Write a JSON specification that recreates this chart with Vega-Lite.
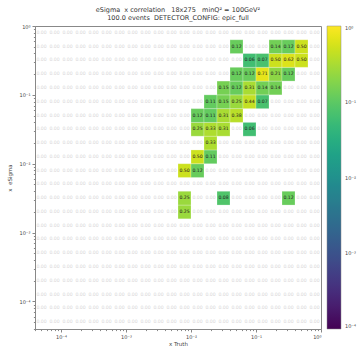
{
"$schema":"https://vega.github.io/schema/vega-lite/v6.json",
"width":286,"height":303,
"autosize":"none",
"padding":{"left":35,"top":26,"right":37,"bottom":18},
"background":"white",
"config":{"font":"DejaVu Sans","view":{"stroke":"#888","strokeWidth":1},
"axis":{"grid":false,"domainColor":"#888","tickColor":"#888","labelColor":"#444","titleColor":"#444","labelFontSize":5,"titleFontSize":5.5,"titleFontWeight":"normal","tickSize":3,"labelPadding":2}},
"title":{"text":["eSigma\u00a0\u00a0x correlation\u00a0\u00a0\u00a018x275\u00a0\u00a0\u00a0minQ² = 100GeV²","100.0 events\u00a0\u00a0DETECTOR_CONFIG: epic_full"],"fontSize":6.5,"fontWeight":"normal","color":"#333","offset":3,"lineHeight":8,"anchor":"middle"},
"datasets":{
"e":[
{"k":0,"lo":3.981e-5,"c":5.012e-5,"hi":6.31e-5},
{"k":1,"lo":6.31e-5,"c":7.943e-5,"hi":1e-4},
{"k":2,"lo":1e-4,"c":1.259e-4,"hi":1.585e-4},
{"k":3,"lo":1.585e-4,"c":1.995e-4,"hi":2.512e-4},
{"k":4,"lo":2.512e-4,"c":3.162e-4,"hi":3.981e-4},
{"k":5,"lo":3.981e-4,"c":5.012e-4,"hi":6.31e-4},
{"k":6,"lo":6.31e-4,"c":7.943e-4,"hi":1e-3},
{"k":7,"lo":1e-3,"c":1.259e-3,"hi":1.585e-3},
{"k":8,"lo":1.585e-3,"c":1.995e-3,"hi":2.512e-3},
{"k":9,"lo":2.512e-3,"c":3.162e-3,"hi":3.981e-3},
{"k":10,"lo":3.981e-3,"c":5.012e-3,"hi":6.31e-3},
{"k":11,"lo":6.31e-3,"c":7.943e-3,"hi":0.01},
{"k":12,"lo":0.01,"c":0.01259,"hi":0.01585},
{"k":13,"lo":0.01585,"c":0.01995,"hi":0.02512},
{"k":14,"lo":0.02512,"c":0.03162,"hi":0.03981},
{"k":15,"lo":0.03981,"c":0.05012,"hi":0.0631},
{"k":16,"lo":0.0631,"c":0.07943,"hi":0.1},
{"k":17,"lo":0.1,"c":0.1259,"hi":0.1585},
{"k":18,"lo":0.1585,"c":0.1995,"hi":0.2512},
{"k":19,"lo":0.2512,"c":0.3162,"hi":0.3981},
{"k":20,"lo":0.3981,"c":0.5012,"hi":0.631},
{"k":21,"lo":0.631,"c":0.7943,"hi":1}
],
"cells":[
{"i":0,"r":0,"v":0},{"i":1,"r":0,"v":0},{"i":2,"r":0,"v":0},{"i":3,"r":0,"v":0},{"i":4,"r":0,"v":0},{"i":5,"r":0,"v":0},{"i":6,"r":0,"v":0},{"i":7,"r":0,"v":0},{"i":8,"r":0,"v":0},{"i":9,"r":0,"v":0},{"i":10,"r":0,"v":0},{"i":11,"r":0,"v":0},{"i":12,"r":0,"v":0},{"i":13,"r":0,"v":0},{"i":14,"r":0,"v":0},{"i":15,"r":0,"v":0},{"i":16,"r":0,"v":0},{"i":17,"r":0,"v":0},{"i":18,"r":0,"v":0},{"i":19,"r":0,"v":0},{"i":20,"r":0,"v":0},{"i":21,"r":0,"v":0},
{"i":0,"r":1,"v":0},{"i":1,"r":1,"v":0},{"i":2,"r":1,"v":0},{"i":3,"r":1,"v":0},{"i":4,"r":1,"v":0},{"i":5,"r":1,"v":0},{"i":6,"r":1,"v":0},{"i":7,"r":1,"v":0},{"i":8,"r":1,"v":0},{"i":9,"r":1,"v":0},{"i":10,"r":1,"v":0},{"i":11,"r":1,"v":0},{"i":12,"r":1,"v":0},{"i":13,"r":1,"v":0},{"i":14,"r":1,"v":0},{"i":15,"r":1,"v":0},{"i":16,"r":1,"v":0},{"i":17,"r":1,"v":0},{"i":18,"r":1,"v":0},{"i":19,"r":1,"v":0},{"i":20,"r":1,"v":0},{"i":21,"r":1,"v":0},
{"i":0,"r":2,"v":0},{"i":1,"r":2,"v":0},{"i":2,"r":2,"v":0},{"i":3,"r":2,"v":0},{"i":4,"r":2,"v":0},{"i":5,"r":2,"v":0},{"i":6,"r":2,"v":0},{"i":7,"r":2,"v":0},{"i":8,"r":2,"v":0},{"i":9,"r":2,"v":0},{"i":10,"r":2,"v":0},{"i":11,"r":2,"v":0},{"i":12,"r":2,"v":0},{"i":13,"r":2,"v":0},{"i":14,"r":2,"v":0},{"i":15,"r":2,"v":0},{"i":16,"r":2,"v":0},{"i":17,"r":2,"v":0},{"i":18,"r":2,"v":0},{"i":19,"r":2,"v":0},{"i":20,"r":2,"v":0},{"i":21,"r":2,"v":0},
{"i":0,"r":3,"v":0},{"i":1,"r":3,"v":0},{"i":2,"r":3,"v":0},{"i":3,"r":3,"v":0},{"i":4,"r":3,"v":0},{"i":5,"r":3,"v":0},{"i":6,"r":3,"v":0},{"i":7,"r":3,"v":0},{"i":8,"r":3,"v":0},{"i":9,"r":3,"v":0},{"i":10,"r":3,"v":0},{"i":11,"r":3,"v":0},{"i":12,"r":3,"v":0},{"i":13,"r":3,"v":0},{"i":14,"r":3,"v":0},{"i":15,"r":3,"v":0},{"i":16,"r":3,"v":0},{"i":17,"r":3,"v":0},{"i":18,"r":3,"v":0},{"i":19,"r":3,"v":0},{"i":20,"r":3,"v":0},{"i":21,"r":3,"v":0},
{"i":0,"r":4,"v":0},{"i":1,"r":4,"v":0},{"i":2,"r":4,"v":0},{"i":3,"r":4,"v":0},{"i":4,"r":4,"v":0},{"i":5,"r":4,"v":0},{"i":6,"r":4,"v":0},{"i":7,"r":4,"v":0},{"i":8,"r":4,"v":0},{"i":9,"r":4,"v":0},{"i":10,"r":4,"v":0},{"i":11,"r":4,"v":0},{"i":12,"r":4,"v":0},{"i":13,"r":4,"v":0},{"i":14,"r":4,"v":0},{"i":15,"r":4,"v":0},{"i":16,"r":4,"v":0},{"i":17,"r":4,"v":0},{"i":18,"r":4,"v":0},{"i":19,"r":4,"v":0},{"i":20,"r":4,"v":0},{"i":21,"r":4,"v":0},
{"i":0,"r":5,"v":0},{"i":1,"r":5,"v":0},{"i":2,"r":5,"v":0},{"i":3,"r":5,"v":0},{"i":4,"r":5,"v":0},{"i":5,"r":5,"v":0},{"i":6,"r":5,"v":0},{"i":7,"r":5,"v":0},{"i":8,"r":5,"v":0},{"i":9,"r":5,"v":0},{"i":10,"r":5,"v":0},{"i":11,"r":5,"v":0},{"i":12,"r":5,"v":0},{"i":13,"r":5,"v":0},{"i":14,"r":5,"v":0},{"i":15,"r":5,"v":0},{"i":16,"r":5,"v":0},{"i":17,"r":5,"v":0},{"i":18,"r":5,"v":0},{"i":19,"r":5,"v":0},{"i":20,"r":5,"v":0},{"i":21,"r":5,"v":0},
{"i":0,"r":6,"v":0},{"i":1,"r":6,"v":0},{"i":2,"r":6,"v":0},{"i":3,"r":6,"v":0},{"i":4,"r":6,"v":0},{"i":5,"r":6,"v":0},{"i":6,"r":6,"v":0},{"i":7,"r":6,"v":0},{"i":8,"r":6,"v":0},{"i":9,"r":6,"v":0},{"i":10,"r":6,"v":0},{"i":11,"r":6,"v":0},{"i":12,"r":6,"v":0},{"i":13,"r":6,"v":0},{"i":14,"r":6,"v":0},{"i":15,"r":6,"v":0},{"i":16,"r":6,"v":0},{"i":17,"r":6,"v":0},{"i":18,"r":6,"v":0},{"i":19,"r":6,"v":0},{"i":20,"r":6,"v":0},{"i":21,"r":6,"v":0},
{"i":0,"r":7,"v":0},{"i":1,"r":7,"v":0},{"i":2,"r":7,"v":0},{"i":3,"r":7,"v":0},{"i":4,"r":7,"v":0},{"i":5,"r":7,"v":0},{"i":6,"r":7,"v":0},{"i":7,"r":7,"v":0},{"i":8,"r":7,"v":0},{"i":9,"r":7,"v":0},{"i":10,"r":7,"v":0},{"i":11,"r":7,"v":0},{"i":12,"r":7,"v":0},{"i":13,"r":7,"v":0},{"i":14,"r":7,"v":0},{"i":15,"r":7,"v":0},{"i":16,"r":7,"v":0},{"i":17,"r":7,"v":0},{"i":18,"r":7,"v":0},{"i":19,"r":7,"v":0},{"i":20,"r":7,"v":0},{"i":21,"r":7,"v":0},
{"i":0,"r":8,"v":0},{"i":1,"r":8,"v":0},{"i":2,"r":8,"v":0},{"i":3,"r":8,"v":0},{"i":4,"r":8,"v":0},{"i":5,"r":8,"v":0},{"i":6,"r":8,"v":0},{"i":7,"r":8,"v":0},{"i":8,"r":8,"v":0},{"i":9,"r":8,"v":0},{"i":10,"r":8,"v":0},{"i":11,"r":8,"v":0.25},{"i":12,"r":8,"v":0},{"i":13,"r":8,"v":0},{"i":14,"r":8,"v":0},{"i":15,"r":8,"v":0},{"i":16,"r":8,"v":0},{"i":17,"r":8,"v":0},{"i":18,"r":8,"v":0},{"i":19,"r":8,"v":0},{"i":20,"r":8,"v":0},{"i":21,"r":8,"v":0},
{"i":0,"r":9,"v":0},{"i":1,"r":9,"v":0},{"i":2,"r":9,"v":0},{"i":3,"r":9,"v":0},{"i":4,"r":9,"v":0},{"i":5,"r":9,"v":0},{"i":6,"r":9,"v":0},{"i":7,"r":9,"v":0},{"i":8,"r":9,"v":0},{"i":9,"r":9,"v":0},{"i":10,"r":9,"v":0},{"i":11,"r":9,"v":0.25},{"i":12,"r":9,"v":0},{"i":13,"r":9,"v":0},{"i":14,"r":9,"v":0.08},{"i":15,"r":9,"v":0},{"i":16,"r":9,"v":0},{"i":17,"r":9,"v":0},{"i":18,"r":9,"v":0},{"i":19,"r":9,"v":0.12},{"i":20,"r":9,"v":0},{"i":21,"r":9,"v":0},
{"i":0,"r":10,"v":0},{"i":1,"r":10,"v":0},{"i":2,"r":10,"v":0},{"i":3,"r":10,"v":0},{"i":4,"r":10,"v":0},{"i":5,"r":10,"v":0},{"i":6,"r":10,"v":0},{"i":7,"r":10,"v":0},{"i":8,"r":10,"v":0},{"i":9,"r":10,"v":0},{"i":10,"r":10,"v":0},{"i":11,"r":10,"v":0},{"i":12,"r":10,"v":0},{"i":13,"r":10,"v":0},{"i":14,"r":10,"v":0},{"i":15,"r":10,"v":0},{"i":16,"r":10,"v":0},{"i":17,"r":10,"v":0},{"i":18,"r":10,"v":0},{"i":19,"r":10,"v":0},{"i":20,"r":10,"v":0},{"i":21,"r":10,"v":0},
{"i":0,"r":11,"v":0},{"i":1,"r":11,"v":0},{"i":2,"r":11,"v":0},{"i":3,"r":11,"v":0},{"i":4,"r":11,"v":0},{"i":5,"r":11,"v":0},{"i":6,"r":11,"v":0},{"i":7,"r":11,"v":0},{"i":8,"r":11,"v":0},{"i":9,"r":11,"v":0},{"i":10,"r":11,"v":0},{"i":11,"r":11,"v":0.5},{"i":12,"r":11,"v":0.12},{"i":13,"r":11,"v":0},{"i":14,"r":11,"v":0},{"i":15,"r":11,"v":0},{"i":16,"r":11,"v":0},{"i":17,"r":11,"v":0},{"i":18,"r":11,"v":0},{"i":19,"r":11,"v":0},{"i":20,"r":11,"v":0},{"i":21,"r":11,"v":0},
{"i":0,"r":12,"v":0},{"i":1,"r":12,"v":0},{"i":2,"r":12,"v":0},{"i":3,"r":12,"v":0},{"i":4,"r":12,"v":0},{"i":5,"r":12,"v":0},{"i":6,"r":12,"v":0},{"i":7,"r":12,"v":0},{"i":8,"r":12,"v":0},{"i":9,"r":12,"v":0},{"i":10,"r":12,"v":0},{"i":11,"r":12,"v":0},{"i":12,"r":12,"v":0.5},{"i":13,"r":12,"v":0.11},{"i":14,"r":12,"v":0},{"i":15,"r":12,"v":0},{"i":16,"r":12,"v":0},{"i":17,"r":12,"v":0},{"i":18,"r":12,"v":0},{"i":19,"r":12,"v":0},{"i":20,"r":12,"v":0},{"i":21,"r":12,"v":0},
{"i":0,"r":13,"v":0},{"i":1,"r":13,"v":0},{"i":2,"r":13,"v":0},{"i":3,"r":13,"v":0},{"i":4,"r":13,"v":0},{"i":5,"r":13,"v":0},{"i":6,"r":13,"v":0},{"i":7,"r":13,"v":0},{"i":8,"r":13,"v":0},{"i":9,"r":13,"v":0},{"i":10,"r":13,"v":0},{"i":11,"r":13,"v":0},{"i":12,"r":13,"v":0},{"i":13,"r":13,"v":0.33},{"i":14,"r":13,"v":0},{"i":15,"r":13,"v":0},{"i":16,"r":13,"v":0},{"i":17,"r":13,"v":0},{"i":18,"r":13,"v":0},{"i":19,"r":13,"v":0},{"i":20,"r":13,"v":0},{"i":21,"r":13,"v":0},
{"i":0,"r":14,"v":0},{"i":1,"r":14,"v":0},{"i":2,"r":14,"v":0},{"i":3,"r":14,"v":0},{"i":4,"r":14,"v":0},{"i":5,"r":14,"v":0},{"i":6,"r":14,"v":0},{"i":7,"r":14,"v":0},{"i":8,"r":14,"v":0},{"i":9,"r":14,"v":0},{"i":10,"r":14,"v":0},{"i":11,"r":14,"v":0},{"i":12,"r":14,"v":0.25},{"i":13,"r":14,"v":0.33},{"i":14,"r":14,"v":0.31},{"i":15,"r":14,"v":0},{"i":16,"r":14,"v":0.06},{"i":17,"r":14,"v":0},{"i":18,"r":14,"v":0},{"i":19,"r":14,"v":0},{"i":20,"r":14,"v":0},{"i":21,"r":14,"v":0},
{"i":0,"r":15,"v":0},{"i":1,"r":15,"v":0},{"i":2,"r":15,"v":0},{"i":3,"r":15,"v":0},{"i":4,"r":15,"v":0},{"i":5,"r":15,"v":0},{"i":6,"r":15,"v":0},{"i":7,"r":15,"v":0},{"i":8,"r":15,"v":0},{"i":9,"r":15,"v":0},{"i":10,"r":15,"v":0},{"i":11,"r":15,"v":0},{"i":12,"r":15,"v":0.12},{"i":13,"r":15,"v":0.11},{"i":14,"r":15,"v":0.31},{"i":15,"r":15,"v":0.38},{"i":16,"r":15,"v":0},{"i":17,"r":15,"v":0},{"i":18,"r":15,"v":0},{"i":19,"r":15,"v":0},{"i":20,"r":15,"v":0},{"i":21,"r":15,"v":0},
{"i":0,"r":16,"v":0},{"i":1,"r":16,"v":0},{"i":2,"r":16,"v":0},{"i":3,"r":16,"v":0},{"i":4,"r":16,"v":0},{"i":5,"r":16,"v":0},{"i":6,"r":16,"v":0},{"i":7,"r":16,"v":0},{"i":8,"r":16,"v":0},{"i":9,"r":16,"v":0},{"i":10,"r":16,"v":0},{"i":11,"r":16,"v":0},{"i":12,"r":16,"v":0},{"i":13,"r":16,"v":0.11},{"i":14,"r":16,"v":0.15},{"i":15,"r":16,"v":0.25},{"i":16,"r":16,"v":0.44},{"i":17,"r":16,"v":0.07},{"i":18,"r":16,"v":0},{"i":19,"r":16,"v":0},{"i":20,"r":16,"v":0},{"i":21,"r":16,"v":0},
{"i":0,"r":17,"v":0},{"i":1,"r":17,"v":0},{"i":2,"r":17,"v":0},{"i":3,"r":17,"v":0},{"i":4,"r":17,"v":0},{"i":5,"r":17,"v":0},{"i":6,"r":17,"v":0},{"i":7,"r":17,"v":0},{"i":8,"r":17,"v":0},{"i":9,"r":17,"v":0},{"i":10,"r":17,"v":0},{"i":11,"r":17,"v":0},{"i":12,"r":17,"v":0},{"i":13,"r":17,"v":0},{"i":14,"r":17,"v":0.15},{"i":15,"r":17,"v":0.12},{"i":16,"r":17,"v":0.31},{"i":17,"r":17,"v":0.14},{"i":18,"r":17,"v":0.14},{"i":19,"r":17,"v":0},{"i":20,"r":17,"v":0},{"i":21,"r":17,"v":0},
{"i":0,"r":18,"v":0},{"i":1,"r":18,"v":0},{"i":2,"r":18,"v":0},{"i":3,"r":18,"v":0},{"i":4,"r":18,"v":0},{"i":5,"r":18,"v":0},{"i":6,"r":18,"v":0},{"i":7,"r":18,"v":0},{"i":8,"r":18,"v":0},{"i":9,"r":18,"v":0},{"i":10,"r":18,"v":0},{"i":11,"r":18,"v":0},{"i":12,"r":18,"v":0},{"i":13,"r":18,"v":0},{"i":14,"r":18,"v":0},{"i":15,"r":18,"v":0.12},{"i":16,"r":18,"v":0.12},{"i":17,"r":18,"v":0.71},{"i":18,"r":18,"v":0.21},{"i":19,"r":18,"v":0.12},{"i":20,"r":18,"v":0},{"i":21,"r":18,"v":0},
{"i":0,"r":19,"v":0},{"i":1,"r":19,"v":0},{"i":2,"r":19,"v":0},{"i":3,"r":19,"v":0},{"i":4,"r":19,"v":0},{"i":5,"r":19,"v":0},{"i":6,"r":19,"v":0},{"i":7,"r":19,"v":0},{"i":8,"r":19,"v":0},{"i":9,"r":19,"v":0},{"i":10,"r":19,"v":0},{"i":11,"r":19,"v":0},{"i":12,"r":19,"v":0},{"i":13,"r":19,"v":0},{"i":14,"r":19,"v":0},{"i":15,"r":19,"v":0},{"i":16,"r":19,"v":0.06},{"i":17,"r":19,"v":0.07},{"i":18,"r":19,"v":0.5},{"i":19,"r":19,"v":0.62},{"i":20,"r":19,"v":0.5},{"i":21,"r":19,"v":0},
{"i":0,"r":20,"v":0},{"i":1,"r":20,"v":0},{"i":2,"r":20,"v":0},{"i":3,"r":20,"v":0},{"i":4,"r":20,"v":0},{"i":5,"r":20,"v":0},{"i":6,"r":20,"v":0},{"i":7,"r":20,"v":0},{"i":8,"r":20,"v":0},{"i":9,"r":20,"v":0},{"i":10,"r":20,"v":0},{"i":11,"r":20,"v":0},{"i":12,"r":20,"v":0},{"i":13,"r":20,"v":0},{"i":14,"r":20,"v":0},{"i":15,"r":20,"v":0.12},{"i":16,"r":20,"v":0},{"i":17,"r":20,"v":0},{"i":18,"r":20,"v":0.14},{"i":19,"r":20,"v":0.12},{"i":20,"r":20,"v":0.5},{"i":21,"r":20,"v":0},
{"i":0,"r":21,"v":0},{"i":1,"r":21,"v":0},{"i":2,"r":21,"v":0},{"i":3,"r":21,"v":0},{"i":4,"r":21,"v":0},{"i":5,"r":21,"v":0},{"i":6,"r":21,"v":0},{"i":7,"r":21,"v":0},{"i":8,"r":21,"v":0},{"i":9,"r":21,"v":0},{"i":10,"r":21,"v":0},{"i":11,"r":21,"v":0},{"i":12,"r":21,"v":0},{"i":13,"r":21,"v":0},{"i":14,"r":21,"v":0},{"i":15,"r":21,"v":0},{"i":16,"r":21,"v":0},{"i":17,"r":21,"v":0},{"i":18,"r":21,"v":0},{"i":19,"r":21,"v":0},{"i":20,"r":21,"v":0},{"i":21,"r":21,"v":0}
]},
"data":{"name":"cells"},
"transform":[
{"lookup":"i","from":{"data":{"name":"e"},"key":"k","fields":["lo","c","hi"]},"as":["x0","xc","x1"]},
{"lookup":"r","from":{"data":{"name":"e"},"key":"k","fields":["lo","c","hi"]},"as":["y0","yc","y1"]}
],
"layer":[
{"transform":[{"filter":"datum.v > 0"}],
"mark":{"type":"rect","stroke":"white","strokeOpacity":0.4,"strokeWidth":0.6},
"encoding":{
"x":{"field":"x0","type":"quantitative","scale":{"type":"log","domain":[3.981e-5,1],"nice":false},
"axis":{"values":[0.0001,0.001,0.01,0.1,1],"labelExpr":"datum.value > 0.5 ? '10⁰' : datum.value > 0.05 ? '10⁻¹' : datum.value > 0.005 ? '10⁻²' : datum.value > 0.0005 ? '10⁻³' : '10⁻⁴'","title":"x Truth","titlePadding":2}},
"x2":{"field":"x1"},
"y":{"field":"y0","type":"quantitative","scale":{"type":"log","domain":[3.981e-5,1],"nice":false},
"axis":{"values":[0.0001,0.001,0.01,0.1,1],"labelExpr":"datum.value > 0.5 ? '10⁰' : datum.value > 0.05 ? '10⁻¹' : datum.value > 0.005 ? '10⁻²' : datum.value > 0.0005 ? '10⁻³' : '10⁻⁴'","title":"x\u00a0\u00a0eSigma","titlePadding":6}},
"y2":{"field":"y1"},
"color":{"field":"v","type":"quantitative","scale":{"type":"log","domain":[0.0001,1],"scheme":"viridis"},
"legend":{"orient":"right","offset":6,"padding":0,"title":null,"gradientLength":303,"gradientThickness":14,"gradientStrokeColor":"#888","gradientStrokeWidth":0.5,"values":[0.0001,0.001,0.01,0.1,1],"labelExpr":"datum.value > 0.5 ? '10⁰' : datum.value > 0.05 ? '10⁻¹' : datum.value > 0.005 ? '10⁻²' : datum.value > 0.0005 ? '10⁻³' : '10⁻⁴'","labelFontSize":5,"labelColor":"#444","labelOffset":4}}
}},
{"mark":{"type":"text","fontSize":4.6},
"encoding":{
"x":{"field":"xc","type":"quantitative","scale":{"type":"log","domain":[3.981e-5,1],"nice":false},"axis":null},
"y":{"field":"yc","type":"quantitative","scale":{"type":"log","domain":[3.981e-5,1],"nice":false},"axis":null},
"text":{"field":"v","type":"quantitative","format":".2f"},
"color":{"condition":{"test":"datum.v > 0","value":"#222"},"value":"#d8d8d8"}
}},
{"mark":{"type":"point","opacity":0},
"encoding":{
"x":{"field":"xc","type":"quantitative","scale":{"type":"log","domain":[3.981e-5,1],"nice":false},
"axis":{"orient":"bottom","values":[4e-5,5e-5,6e-5,7e-5,8e-5,9e-5,2e-4,3e-4,4e-4,5e-4,6e-4,7e-4,8e-4,9e-4,2e-3,3e-3,4e-3,5e-3,6e-3,7e-3,8e-3,9e-3,0.02,0.03,0.04,0.05,0.06,0.07,0.08,0.09,0.2,0.3,0.4,0.5,0.6,0.7,0.8,0.9],"labels":false,"domain":false,"tickSize":1.6,"title":null}},
"y":{"field":"yc","type":"quantitative","scale":{"type":"log","domain":[3.981e-5,1],"nice":false},
"axis":{"orient":"left","values":[4e-5,5e-5,6e-5,7e-5,8e-5,9e-5,2e-4,3e-4,4e-4,5e-4,6e-4,7e-4,8e-4,9e-4,2e-3,3e-3,4e-3,5e-3,6e-3,7e-3,8e-3,9e-3,0.02,0.03,0.04,0.05,0.06,0.07,0.08,0.09,0.2,0.3,0.4,0.5,0.6,0.7,0.8,0.9],"labels":false,"domain":false,"tickSize":1.6,"title":null}}
}}
],
"resolve":{"axis":{"x":"independent","y":"independent"}}
}
